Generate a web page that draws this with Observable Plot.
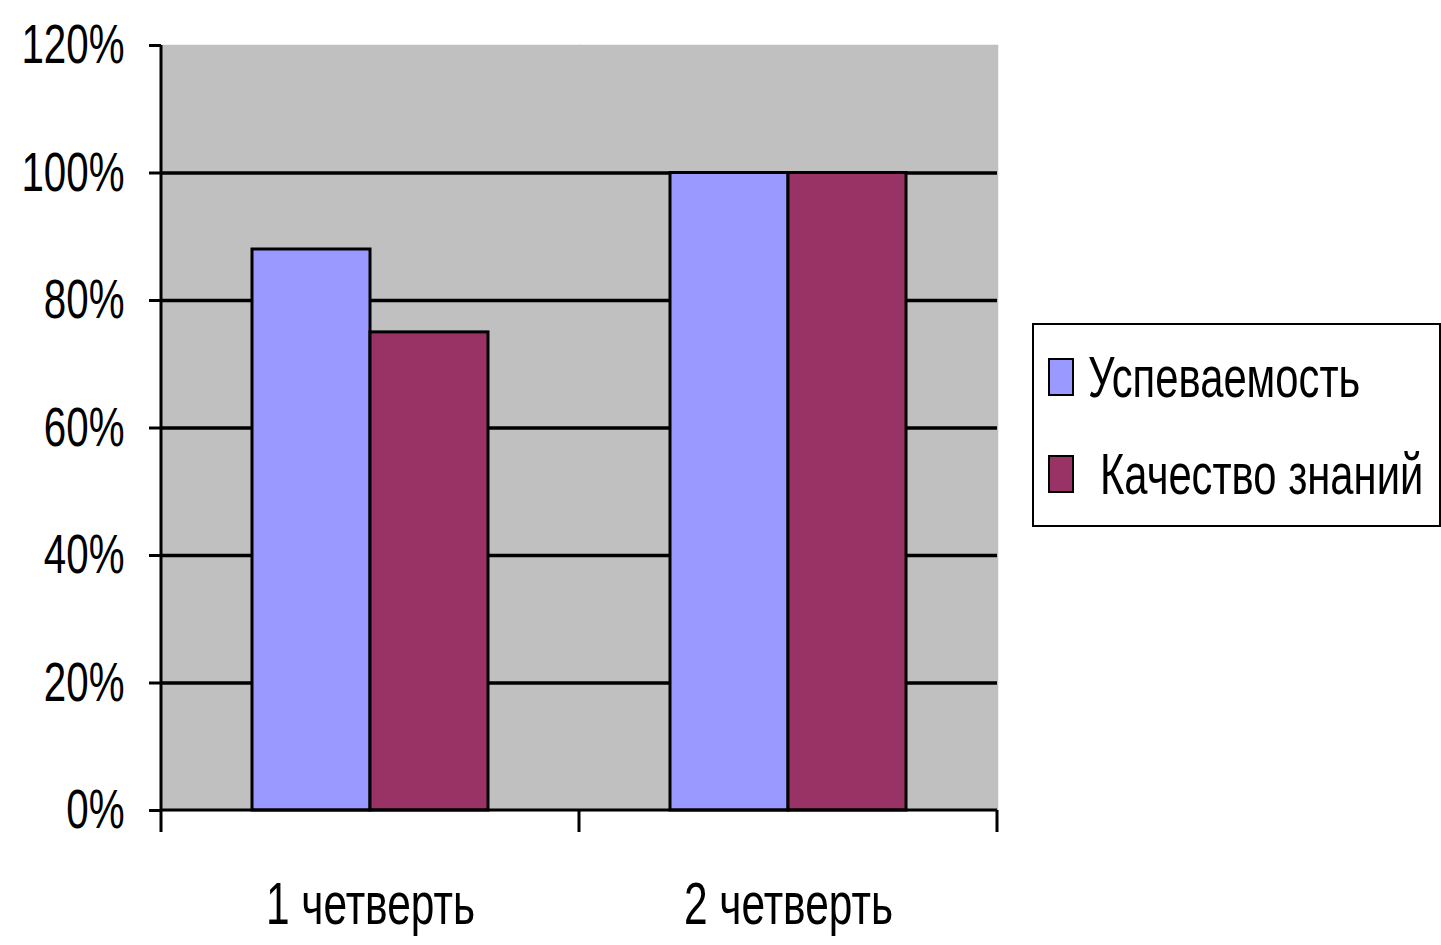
<!DOCTYPE html>
<html>
<head>
<meta charset="utf-8">
<script src="https://cdn.jsdelivr.net/npm/d3@7"></script>
<script src="https://cdn.jsdelivr.net/npm/@observablehq/plot@0.6"></script>
<style>
  body { margin: 0; background: #fff; }
  #wrap { position: relative; width: 1441px; height: 945px; overflow: hidden; }
  #legend { position: absolute; left: 1032px; top: 323px; width: 405px; height: 200px;
    border: 2px solid #000; background: #fff;
    font-family: "Liberation Sans", Arial, sans-serif; font-size: 58px; color: #000; }
  .item { position: absolute; display: flex; align-items: center; white-space: nowrap; }
  .sw { width: 22px; height: 34px; border: 2px solid #000; display: inline-block; flex: none; }
  .lt { display: inline-block; transform: scaleX(0.72); transform-origin: left center; }
</style>
</head>
<body>
<div id="wrap"><div id="chart"></div><div id="legend"></div></div>
<script>
const quarters = ["1 четверть", "2 четверть"];
const series = ["Успеваемость", "Качество знаний"];
const uspevaemost = [0.88, 1.00];
const kachestvo = [0.75, 1.00];
const yTicks = [0, 0.2, 0.4, 0.6, 0.8, 1.0, 1.2];
const gridTicks = [0.2, 0.4, 0.6, 0.8, 1.0];
const colors = ["#9999FF", "#993366"];

const data = quarters.flatMap((q, i) => [
  {quarter: q, series: series[0], value: uspevaemost[i]},
  {quarter: q, series: series[1], value: kachestvo[i]}
]);

const FONT = '"Liberation Sans", Arial, sans-serif';
const SQUEEZE = 0.72;

const chart = Plot.plot({
  width: 1441, height: 945,
  marginLeft: 160, marginRight: 444, marginTop: 45, marginBottom: 135,
  style: {fontFamily: FONT, background: "transparent", overflow: "visible"},
  fx: {domain: quarters, padding: 0, label: null},
  x: {domain: series, paddingInner: 0, paddingOuter: 0.77, axis: null},
  y: {domain: [0, 1.2], label: null},
  color: {domain: series, range: colors},
  marks: [
    Plot.frame({fill: "#C0C0C0", stroke: "#C0C0C0", strokeWidth: 1.5}),
    Plot.ruleY(gridTicks, {stroke: "#000", strokeWidth: 3.5}),
    Plot.barY(data, {fx: "quarter", x: "series", y: "value", fill: "series", stroke: "#000", strokeWidth: 3}),
    Plot.axisY({ticks: yTicks, tickFormat: d3.format(".0%"), tickSize: 12, tickPadding: 25,
      fontSize: 56, stroke: "#000", strokeWidth: 3, label: null, fill: "#000"}),
    Plot.axisFx({anchor: "bottom", tickSize: 0, tickPadding: 72, fontSize: 59, label: null, fill: "#000"})
  ]
});
document.getElementById("chart").appendChild(chart);

// condense all texts horizontally (reference font is tall and narrow)
d3.select(chart).selectAll("text").each(function() {
  const len = this.getComputedTextLength();
  this.setAttribute("textLength", (len * SQUEEZE).toFixed(1));
  this.setAttribute("lengthAdjust", "spacingAndGlyphs");
});

// axis lines and boundary ticks using the fx and y scales
const fx = chart.scale("fx");
const y = chart.scale("y");
const svg = d3.select(chart);
const bounds = quarters.map(q => fx.apply(q)).concat([fx.apply(quarters[quarters.length - 1]) + fx.bandwidth]);
const y0 = y.apply(0), yTop = y.apply(1.2);
const g = svg.append("g").attr("stroke", "#000").attr("stroke-width", 3);
g.append("line").attr("x1", bounds[0]).attr("x2", bounds[0]).attr("y1", yTop).attr("y2", y0 + 22);
g.append("line").attr("x1", bounds[0]).attr("x2", bounds[bounds.length - 1]).attr("y1", y0).attr("y2", y0);
bounds.slice(1).forEach(b => g.append("line").attr("x1", b).attr("x2", b).attr("y1", y0).attr("y2", y0 + 22));

// legend
const legend = document.getElementById("legend");
const pos = [{left: 14, top: 18}, {left: 14, top: 115}];
series.forEach((s, i) => {
  const it = document.createElement("div");
  it.className = "item";
  it.style.left = pos[i].left + "px";
  it.style.top = pos[i].top + "px";
  const sw = document.createElement("span");
  sw.className = "sw";
  sw.style.background = colors[i];
  const t = document.createElement("span");
  t.className = "lt";
  t.textContent = s;
  t.style.marginLeft = (i === 0 ? 14 : 26) + "px";
  it.appendChild(sw); it.appendChild(t);
  legend.appendChild(it);
});
</script>
</body>
</html>
